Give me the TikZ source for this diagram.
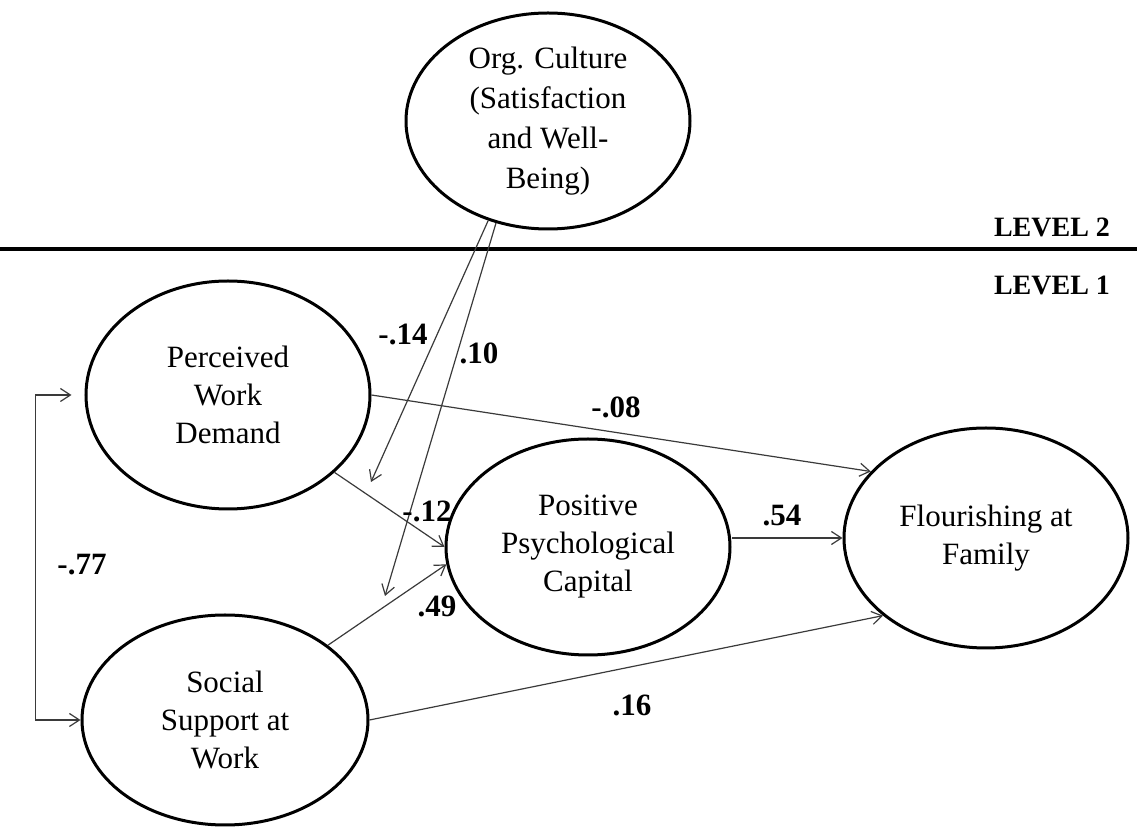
\documentclass[tikz,border=0pt]{standalone}
\usepackage{fontspec}
\setmainfont{Liberation Serif}
\usetikzlibrary{arrows.meta,shapes.geometric}
\definecolor{pathGray}{HTML}{3A3A3A}
\tikzset{
  latent/.style={ellipse,draw=black,line width=1.5pt,fill=white,
    minimum width=142pt,minimum height=108pt,inner sep=0pt,align=center,
    font=\fontsize{15.5}{19}\selectfont},
  pathline/.style={-{Straight Barb[length=5pt,width=6.5pt]},draw=pathGray,line width=0.6pt},
  coef/.style={font=\fontsize{15.5}{18}\selectfont\bfseries},
  level/.style={font=\fontsize{14}{16}\selectfont\bfseries},
}

\begin{document}
\begin{tikzpicture}[x=0.5pt,y=-0.5pt]

\useasboundingbox (0,0) rectangle (1137,828);

\node[latent,font=\fontsize{15.5}{20}\selectfont] (org) at (548,121)
  {Org. Culture\\(Satisfaction\\and Well-\\Being)};

\draw[line width=1.75pt] (0,249) -- (1137,249);
\node[level] (lvl2) at (1052,227) {LEVEL 2};
\node[level] (lvl1) at (1052,285) {LEVEL 1};

\node[latent,minimum height=114pt] (pwd) at (228,395) {Perceived\\Work\\Demand};
\node[latent,minimum width=143pt,minimum height=105pt] (ssw) at (225,720) {Social\\Support at\\Work};
\node[latent] (ppc) at (588,547) {Positive\\Psychological\\Capital};
\node[latent,minimum height=110pt] (faf) at (986,538) {Flourishing at\\Family};

\draw[pathline] (pwd.east) -- (faf.150);
\draw[pathline] (pwd.-36) -- (ppc.west);
\draw[pathline] (ssw.36) -- (ppc.187);
\draw[pathline] (faf.west -| ppc.east) -- (faf.west);
\draw[pathline] (ssw.east) -- (faf.217);
\draw[pathline,{Straight Barb[length=5pt,width=6.5pt]}-{Straight Barb[length=5pt,width=6.5pt]},shorten >=6.5pt]
  (ssw.west) -- ++(-45,0) |- (pwd.west);

\coordinate (m1) at (371,482);
\coordinate (m2) at (385,596);
\draw[pathline] (org.-121) -- (m1);
\draw[pathline] (org.-117) -- (m2);

\node[coef] (c14) at (403,334) {-.14};
\node[coef] (c10) at (479,353) {.10};
\node[coef] (c08) at (616,407) {-.08};
\node[coef] (c12) at (427,511) {-.12};
\node[coef] (c54) at (782,516) {.54};
\node[coef] (c49) at (437,606) {.49};
\node[coef] (c16) at (632,705) {.16};
\node[coef] (c77) at (82,565) {-.77};

\end{tikzpicture}
\end{document}
